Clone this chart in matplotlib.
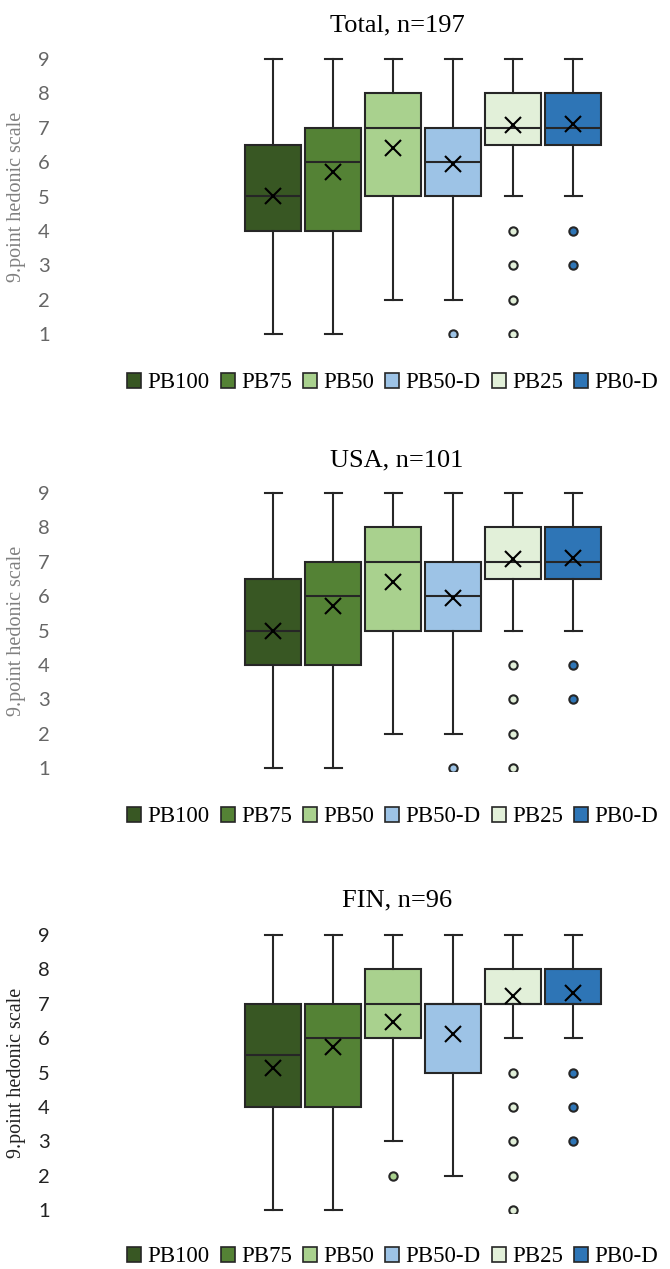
import matplotlib.pyplot as plt
from matplotlib.patches import Patch

# grupos e cores
grupos = ['PB100', 'PB75', 'PB50', 'PB50-D', 'PB25', 'PB0-D']
cores = ['#385723', '#548235', '#A9D18E', '#9DC3E6', '#E2F0D9', '#2E75B6']

# Total, n=197
total_min = [1, 1, 2, 2, 5, 5]
total_q1 = [4, 4, 5, 5, 6.5, 6.5]
total_med = [5, 6, 7, 6, 7, 7]
total_q3 = [6.5, 7, 8, 7, 8, 8]
total_max = [9, 9, 9, 9, 9, 9]
total_media = [5.0, 5.7, 6.4, 5.95, 7.08, 7.1]
total_out = [[], [], [], [1], [4, 3, 2, 1], [4, 3]]

# USA, n=101
usa_min = [1, 1, 2, 2, 5, 5]
usa_q1 = [4, 4, 5, 5, 6.5, 6.5]
usa_med = [5, 6, 7, 6, 7, 7]
usa_q3 = [6.5, 7, 8, 7, 8, 8]
usa_max = [9, 9, 9, 9, 9, 9]
usa_media = [5.0, 5.7, 6.4, 5.95, 7.08, 7.1]
usa_out = [[], [], [], [1], [4, 3, 2, 1], [4, 3]]

# FIN, n=96
fin_min = [1, 1, 3, 2, 6, 6]
fin_q1 = [4, 4, 6, 5, 7, 7]
fin_med = [5.5, 6, 7, 7, 7, 7]
fin_q3 = [7, 7, 8, 7, 8, 8]
fin_max = [9, 9, 9, 9, 9, 9]
fin_media = [5.13, 5.75, 6.48, 6.12, 7.23, 7.32]
fin_out = [[], [], [2], [], [5, 4, 3, 2, 1], [5, 4, 3]]

paineis = [
    ('Total, n=197', total_min, total_q1, total_med, total_q3, total_max, total_media, total_out),
    ('USA, n=101', usa_min, usa_q1, usa_med, usa_q3, usa_max, usa_media, usa_out),
    ('FIN, n=96', fin_min, fin_q1, fin_med, fin_q3, fin_max, fin_media, fin_out),
]

W, H = 670, 1269
serif = 'Liberation Serif'
fig = plt.figure(figsize=(W / 100, H / 100), dpi=100)

# layout em pixels
y9 = [59, 493, 935]
titulo_y = [25, 460, 900]
legenda_y = [383, 817, 1257]
cinza = ['#666666', '#666666', '#222222']
cinza_rotulo = ['#808080', '#808080', '#222222']
px_unid = (334 - 59) / 8
ax_left = 58
x1 = 273
esp = 60

for k, (titulo, mn, q1, med, q3, mx, media, out) in enumerate(paineis):
    topo = y9[k] - 0.3 * px_unid
    base = y9[k] + 8.1 * px_unid
    ax = fig.add_axes([ax_left / W, 1 - base / H, (W - ax_left) / W, (base - topo) / H])
    stats = []
    for i in range(len(grupos)):
        stats.append({'whislo': mn[i], 'q1': q1[i], 'med': med[i], 'q3': q3[i],
                      'whishi': mx[i], 'mean': media[i], 'fliers': out[i]})
    pos = list(range(1, 7))
    bp = ax.bxp(stats, positions=pos, widths=56 / esp, capwidths=17 / esp,
                patch_artist=True, showmeans=True, showfliers=True,
                boxprops=dict(edgecolor='#262626', linewidth=1.5),
                whiskerprops=dict(color='#262626', linewidth=1.5),
                capprops=dict(color='#262626', linewidth=1.5),
                medianprops=dict(color='#262626', linewidth=1.5),
                meanprops=dict(marker='x', markersize=11, markeredgecolor='black',
                               markeredgewidth=1.5))
    for caixa, c in zip(bp['boxes'], cores):
        caixa.set_facecolor(c)
    for fl, c in zip(bp['fliers'], cores):
        fl.set(marker='o', markersize=6, markerfacecolor=c,
               markeredgecolor='#262626', markeredgewidth=1.5)
    xmin = 1 - (x1 - ax_left) / esp
    ax.set_xlim(xmin, xmin + (W - ax_left) / esp)
    ax.set_ylim(0.9, 9.3)
    ax.set_yticks([1, 2, 3, 4, 5, 6, 7, 8, 9])
    ax.set_yticklabels(['1', '2', '3', '4', '5', '6', '7', '8', '9'],
                       fontfamily='Lato', fontsize=14.5, color=cinza[k])
    ax.tick_params(axis='y', length=0, pad=6)
    ax.set_xticks([])
    for s in ax.spines.values():
        s.set_visible(False)
    ax.patch.set_alpha(0)

    fig.text(17 / W, 1 - (y9[k] + 4 * px_unid) / H, '9.point hedonic scale',
             rotation=90, ha='center', va='center', fontfamily=serif,
             fontsize=14.5, color=cinza_rotulo[k])
    fig.text(397 / W, 1 - titulo_y[k] / H, titulo, ha='center', va='center',
             fontfamily=serif, fontsize=19)

    alcas = [Patch(facecolor=c, edgecolor='#262626', linewidth=1.2) for c in cores]
    fig.legend(alcas, grupos, loc='center left',
               bbox_to_anchor=(127 / W, 1 - legenda_y[k] / H), ncol=6,
               frameon=False, prop={'family': serif, 'size': 16.5},
               handlelength=0.62, handleheight=0.62, handletextpad=0.28,
               columnspacing=0.47, borderpad=0, borderaxespad=0)

fig.savefig('out.png', dpi=100)
